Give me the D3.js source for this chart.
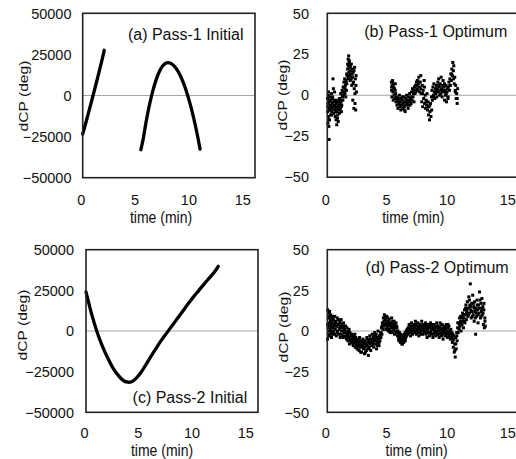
<!DOCTYPE html>
<html><head><meta charset="utf-8">
<script src="https://cdn.jsdelivr.net/npm/d3@7/dist/d3.min.js"></script>
<style>
html,body{margin:0;padding:0;background:#fff;}
svg{display:block;font-family:"Liberation Sans",Arial,sans-serif;}
</style></head>
<body>
<svg id="chart" width="516" height="459"></svg>
<script>
// ---------- data ----------
const xTicks = [0, 5, 10, 15];
const yTicksInitial = [-50000, -25000, 0, 25000, 50000];
const yTicksOptimum = [-50, -25, 0, 25, 50];
const panelTitles = ["(a) Pass-1 Initial", "(b) Pass-1 Optimum", "(c) Pass-2 Initial", "(d) Pass-2 Optimum"];
const xAxisTitle = "time (min)";
const yAxisTitle = "dCP (deg)";

// (a) Pass-1 Initial: two curve pieces [time, dCP]
const aCurve1 = [[0,-23500],[0.25,-17500],[0.5,-11500],[0.75,-5300],[1.0,1000],[1.25,7300],[1.5,13800],[1.75,20500],[2.0,27500]];
const aCurve2 = [[5.4,-33000],[5.6,-27000],[5.9,-15600],[6.2,-5700],[6.5,2500],[6.8,9200],[7.1,14300],[7.4,17800],[7.7,19600],[7.9,20000],[8.2,19500],[8.5,17900],[8.8,15300],[9.1,11600],[9.4,6900],[9.7,1100],[10.0,-5700],[10.3,-13600],[10.6,-22500],[10.9,-32600]];

// (c) Pass-2 Initial
const cCurve = [[0,24000],[0.5,11000],[1.0,0],[1.5,-9000],[2.0,-16300],[2.5,-22700],[3.0,-27300],[3.5,-30600],[3.9,-31500],[4.3,-31000],[4.7,-28800],[5.0,-26500],[5.5,-21500],[6.0,-16000],[6.5,-10800],[7.0,-5800],[7.5,-1300],[8.0,3200],[8.5,7700],[9.0,12200],[9.5,16700],[10.0,21000],[10.5,25000],[11.0,29000],[11.5,32800],[12.0,36800],[12.3,39800]];

// (b) Pass-1 Optimum scatter [time, dCP]
const bPoints = [
[0.02,-2],[0.03,-10],[0.05,-17],[0.06,-5],[0.08,0],[0.09,-13],[0.1,2],[0.12,-8],[0.13,-19],[0.15,-27],[0.16,-4],[0.18,-15],[0.2,-1],[0.22,-9],[0.25,-6],[0.27,-12],[0.3,-3],[0.32,-7],[0.35,1],[0.37,-10],[0.4,-5],[0.42,-2],[0.45,-8],[0.47,10],[0.5,4],[0.52,-4],[0.55,-11],[0.57,-6],[0.6,2],[0.62,-9],[0.65,-13],[0.67,-3],[0.7,-7],[0.72,-15],[0.75,-5],[0.78,-18],[0.8,-10],[0.83,-4],[0.86,-12],[0.88,-8],[0.9,-16],[0.93,-3],[0.96,-6],[0.98,-9],[1.01,-2],[1.04,-5],[1.07,-8],[1.1,1],[1.13,-4],[1.16,-10],[1.19,-6],[1.22,3],[1.25,-1],[1.28,-3],[1.31,5],[1.34,0],[1.37,8],[1.4,2],[1.43,10],[1.46,4],[1.49,6],[1.52,-1],[1.55,9],[1.58,3],[1.61,7],[1.64,12],[1.67,16],[1.7,10],[1.72,22],[1.74,18],[1.76,24],[1.78,14],[1.8,20],[1.83,12],[1.86,17],[1.89,9],[1.92,15],[1.95,13],[1.98,19],[2.01,6],[2.04,16],[2.07,11],[2.1,-3],[2.13,14],[2.16,8],[2.19,-8],[2.22,4],[2.25,17],[2.28,-5],[2.31,10],[2.34,-9],[2.37,12],[2.4,2],
[0.04,-7],[0.11,-15],[0.17,-9],[0.23,-3],[0.29,-8],[0.36,-12],[0.44,-1],[0.53,-7],[0.61,-4],[0.69,-10],[0.76,-8],[0.84,-14],[0.92,-7],[1.0,-11],[1.08,-3],[1.15,-7],[1.23,0],[1.3,2],[1.38,5],[1.45,1],[1.53,8],[1.6,13],[1.68,19],[1.75,11],[1.82,21],[1.9,18],[1.97,10],[2.05,13],[2.12,7],[2.2,15],[2.28,1],[2.36,6],
[5.28,8],[5.3,3],[5.32,-1],[5.35,6],[5.38,9],[5.4,2],[5.43,-3],[5.46,5],[5.5,0],[5.53,4],[5.56,-2],[5.6,7],[5.63,1],[5.66,-4],[5.7,-1],[5.74,-6],[5.78,-3],[5.82,-8],[5.86,-2],[5.9,-5],[5.94,0],[5.98,-7],[6.02,-4],[6.06,-9],[6.1,-2],[6.14,-6],[6.18,-3],[6.22,-8],[6.26,-5],[6.3,-1],[6.34,-7],[6.38,-4],[6.42,-10],[6.46,-2],[6.5,-6],[6.54,0],[6.58,-5],[6.62,-3],[6.66,-8],[6.7,-1],[6.74,-4],[6.78,1],[6.82,-6],[6.86,-2],[6.9,-5],[6.94,2],[6.98,-3],[7.02,4],[7.06,-1],[7.1,3],[7.14,-4],[7.18,5],[7.22,1],[7.26,6],[7.3,2],[7.34,8],[7.38,4],[7.42,9],[7.46,3],[7.5,7],[7.54,11],[7.58,5],[7.62,2],[7.66,8],[7.7,12],[7.74,1],[7.78,-4],[7.82,6],[7.86,-7],[7.9,3],[7.94,-2],[7.98,9],[8.02,-5],[8.06,0],[8.1,-8],[8.14,-3],[8.18,-6],[8.22,1],[8.26,-9],[8.3,-4],[8.34,-12],[8.38,-7],[8.42,-15],[8.46,-10],[8.5,-5],[8.54,-13],[8.58,-1],[8.62,3],[8.66,-3],[8.7,5],[8.74,0],[8.78,7],[8.82,2],[8.86,-2],[8.9,4],[8.94,1],[8.98,6],[9.02,-1],[9.06,3],[9.1,8],[9.14,2],[9.18,10],[9.22,5],[9.26,0],[9.3,7],[9.34,3],[9.38,11],[9.42,4],[9.46,-1],[9.5,6],[9.54,9],[9.58,2],[9.62,5],[9.66,-3],[9.7,3],[9.74,0],[9.78,6],[9.82,-4],[9.86,2],[9.9,4],[9.94,-2],[9.98,5],[10.02,8],[10.06,3],[10.1,10],[10.14,6],[10.18,13],[10.22,9],[10.26,16],[10.3,12],[10.34,20],[10.38,15],[10.42,18],[10.46,7],[10.5,11],[10.54,3],[10.58,6],[10.62,-2],[10.66,1],[10.7,-5],[10.74,4],
[5.3,5],[5.45,7],[5.6,3],[5.75,-2],[5.9,-4],[6.05,-6],[6.2,-1],[6.35,-9],[6.5,-4],[6.65,-6],[6.8,-3],[6.95,-1],[7.1,1],[7.25,3],[7.4,6],[7.55,8],[7.7,4],[7.85,1],[8.0,5],[8.15,-4],[8.3,-7],[8.45,-6],[8.6,-9],[8.75,-1],[8.9,2],[9.05,4],[9.2,6],[9.35,1],[9.5,3],[9.65,7],[9.8,1],[9.95,-1],[10.1,6],[10.25,13],[10.4,10],[10.55,2],[10.7,-2]
];

// (d) Pass-2 Optimum scatter [time, dCP]
const dPoints = [
[0.02,-5],[0.04,13],[0.06,2],[0.08,8],[0.1,-2],[0.12,11],[0.14,5],[0.16,0],[0.18,9],[0.2,3],[0.22,-3],[0.24,7],[0.26,1],[0.28,10],[0.3,4],[0.32,-1],[0.34,6],[0.36,2],[0.38,8],[0.4,-2],[0.42,5],[0.44,0],[0.46,3],
[0.5,7],[0.54,-1],[0.58,4],[0.62,9],[0.66,1],[0.7,5],[0.74,-3],[0.78,3],[0.82,8],[0.86,0],[0.9,4],[0.94,-2],[0.98,6],[1.02,2],[1.06,-4],[1.1,3],[1.14,7],[1.18,0],[1.22,4],[1.26,-3],[1.3,2],[1.34,5],[1.38,-1],
[1.42,1],[1.46,-3],[1.5,3],[1.54,-1],[1.58,-5],[1.62,2],[1.66,-2],[1.7,-6],[1.74,0],[1.78,-4],[1.82,-8],[1.86,-1],[1.9,-5],[1.94,-3],[1.98,-7],[2.02,-2],[2.06,-6],[2.1,-4],[2.14,-9],[2.18,-3],[2.22,-7],[2.26,-5],[2.3,-10],[2.34,-4],[2.38,-8],[2.42,-6],[2.46,-11],
[2.5,-5],[2.54,-9],[2.58,-7],[2.62,-12],[2.66,-4],[2.7,-8],[2.74,-10],[2.78,-6],[2.82,-13],[2.86,-7],[2.9,-9],[2.94,-5],[2.98,-11],[3.02,-8],[3.06,-14],[3.1,-6],[3.14,-10],[3.18,-8],[3.22,-12],[3.26,-4],[3.3,-9],[3.34,-7],[3.38,-15],[3.42,-6],[3.46,-10],[3.5,-3],[3.54,-8],[3.58,-12],
[3.62,-5],[3.66,-9],[3.7,-2],[3.74,-7],[3.78,-4],[3.82,-10],[3.86,-6],[3.9,-1],[3.94,-8],[3.98,-3],[4.02,-6],[4.06,-11],[4.1,-4],[4.14,-7],[4.18,0],[4.22,-5],[4.26,-9],[4.3,-3],[4.34,-6],[4.38,-1],
[4.42,-4],[4.46,2],[4.5,-2],[4.54,5],[4.58,1],[4.62,8],[4.66,3],[4.7,10],
[4.74,4],[4.78,7],[4.82,1],[4.86,5],[4.9,9],[4.94,2],[4.98,6],[5.02,0],[5.06,4],[5.1,7],[5.14,3],[5.18,-1],[5.22,5],[5.26,2],[5.3,8],[5.34,3],[5.38,-1],[5.42,4],[5.46,1],[5.5,6],[5.54,-2],[5.58,3],[5.62,0],[5.66,5],[5.7,-1],[5.74,2],[5.78,-3],
[5.82,0],[5.86,-3],[5.9,-6],[5.94,-1],[5.98,-4],[6.02,-7],[6.06,-2],[6.1,-5],[6.14,-8],[6.18,-3],[6.22,-6],[6.26,-4],[6.3,-7],[6.34,-2],[6.38,-5],[6.42,-1],[6.46,-4],[6.5,0],[6.54,-3],[6.58,1],
[6.62,-2],[6.66,2],[6.7,-1],[6.74,4],[6.78,0],[6.82,3],[6.86,-3],[6.9,1],[6.94,5],[6.98,2],[7.02,-2],[7.06,3],[7.1,0],[7.14,4],[7.18,-1],[7.22,2],[7.26,6],[7.3,1],[7.34,-2],[7.38,3],[7.42,0],[7.46,5],[7.5,2],[7.54,-3],[7.58,1],[7.62,4],[7.66,-1],[7.7,3],[7.74,0],[7.78,6],[7.82,2],[7.86,-2],[7.9,1],[7.94,4],[7.98,-1],
[8.02,3],[8.06,0],[8.1,5],[8.14,-2],[8.18,2],[8.22,-4],[8.26,1],[8.3,4],[8.34,-1],[8.38,3],[8.42,-3],[8.46,2],[8.5,5],[8.54,0],[8.58,-2],[8.62,3],[8.66,1],[8.7,-4],[8.74,2],[8.78,4],[8.82,-1],[8.86,3],[8.9,0],[8.94,-3],[8.98,2],[9.02,5],[9.06,0],
[9.1,-2],[9.14,3],[9.18,0],[9.22,-4],[9.26,2],[9.3,5],[9.34,-1],[9.38,1],[9.42,-3],[9.46,4],[9.5,0],[9.54,-5],[9.58,2],[9.62,-1],[9.66,3],[9.7,-3],[9.74,1],[9.78,-2],[9.82,4],[9.86,0],[9.9,-4],[9.94,2],[9.98,-1],[10.02,3],[10.06,-3],[10.1,0],[10.14,-5],[10.18,1],[10.22,-2],
[10.26,-4],[10.3,-7],[10.34,-2],[10.38,-10],[10.42,-5],[10.46,-13],[10.5,-8],[10.54,-16],[10.58,-4],[10.62,-11],[10.66,-1],[10.7,-6],
[10.74,2],[10.78,-1],[10.82,5],[10.86,1],[10.9,8],[10.94,3],[10.98,6],[11.02,0],[11.06,9],[11.1,4],[11.14,11],[11.18,6],[11.22,2],
[11.26,8],[11.3,13],[11.34,5],[11.38,10],[11.42,16],[11.46,7],[11.5,12],[11.54,18],[11.58,9],[11.62,14],[11.66,21],[11.7,11],[11.74,16],[11.78,29],[11.82,13],[11.86,8],[11.9,17],[11.94,12],[11.98,22],[12.02,10],[12.06,15],[12.1,6],[12.14,18],[12.18,12],[12.22,-2],[12.26,14],[12.3,9],[12.34,19],[12.38,13],[12.42,5],[12.46,16],[12.5,11],[12.54,24],[12.58,14],[12.62,8],[12.66,17],[12.7,12],[12.74,20],[12.78,10],[12.82,15],[12.86,4],[12.9,13],[12.94,2],[12.98,8],
[0.03,4],[0.11,-3],[0.19,12],[0.27,6],[0.35,-4],[0.43,9],[0.51,2],[0.59,-2],[0.67,6],[0.75,3],[0.83,-1],[0.91,7],[0.99,1],[1.07,5],[1.15,-2],[1.23,2],[1.31,-4],[1.39,3],
[1.47,0],[1.55,-4],[1.63,-1],[1.71,-3],[1.79,1],[1.87,-6],[1.95,-2],[2.03,-5],[2.11,-8],[2.19,-6],[2.27,-2],[2.35,-7],[2.43,-9],[2.51,-11],[2.59,-6],[2.67,-9],[2.75,-13],[2.83,-9],[2.91,-6],[2.99,-10],[3.07,-7],[3.15,-13],[3.23,-9],[3.31,-5],[3.39,-11],[3.47,-7],[3.55,-5],[3.63,-8],[3.71,-6],[3.79,-8],[3.87,-3],[3.95,-5],[4.03,-2],[4.11,-9],[4.19,-4],[4.27,-7],[4.35,-3],[4.43,-1],[4.51,3],[4.59,4],[4.67,6],[4.75,9],[4.83,4],[4.91,3],[4.99,8],[5.07,1],[5.15,5],[5.23,0],[5.31,4],[5.39,6],[5.47,2],[5.55,4],[5.63,2],[5.71,3],[5.79,-1],[5.87,-5],[5.95,-3],[6.03,-5],[6.11,-6],[6.19,-8],[6.27,-5],[6.35,-3],[6.43,-6],[6.51,-2],[6.59,-1],[6.67,0],[6.75,1],[6.83,-1],[6.91,3],[6.99,0],[7.07,1],[7.15,2],[7.23,-1],[7.31,4],[7.39,1],[7.47,-1],[7.55,3],[7.63,1],[7.71,-2],[7.79,2],[7.87,4],[7.95,1],[8.03,-1],[8.11,2],[8.19,4],[8.27,-1],[8.35,2],[8.43,4],[8.51,-1],[8.59,1],[8.67,4],[8.75,-2],[8.83,1],[8.91,3],[8.99,-1],[9.07,3],[9.15,1],[9.23,-2],[9.31,2],[9.39,4],[9.47,-2],[9.55,1],[9.63,3],[9.71,-1],[9.79,2],[9.87,-2],[9.95,4],[10.03,0],[10.11,-2],[10.19,-4],[10.27,-1],[10.35,-6],[10.43,-3],[10.51,-12],[10.59,-8],[10.67,-3],[10.75,5],[10.83,2],[10.91,4],[10.99,9],[11.07,6],[11.15,8],[11.23,10],[11.31,6],[11.39,14],[11.47,11],[11.55,14],[11.63,10],[11.71,19],[11.79,15],[11.87,12],[11.95,9],[12.03,17],[12.11,14],[12.19,8],[12.27,11],[12.35,16],[12.43,10],[12.51,14],[12.59,19],[12.67,9],[12.75,14],[12.83,11],[12.91,17],[12.99,6],[13.02,3]
];

// ---------- layout ----------
const svg = d3.select("#chart");
const panels = [
  {title: panelTitles[0], type: "line", series: [aCurve1, aCurve2], yTicks: yTicksInitial,
   box: {l: 82.7, r: 255, t: 13.3, b: 177.7}, yLabEnd: 71.5, yTitle: {x: 28, y: 96},
   xTitle: {x: 161, y: 222.5}, xLabY: 205, tpos: {x: 243.5, y: 40}},
  {title: panelTitles[1], type: "scatter", series: [bPoints], yTicks: yTicksOptimum,
   box: {l: 327.3, r: 521.5, t: 13.3, b: 177.2}, yLabEnd: 309, yTitle: {x: 287, y: 95},
   xTitle: {x: 413.3, y: 222.5}, xLabY: 205, tpos: {x: 507.3, y: 37}},
  {title: panelTitles[2], type: "line", series: [cCurve], yTicks: yTicksInitial,
   box: {l: 86, r: 258, t: 249.7, b: 412.3}, yLabEnd: 74, yTitle: {x: 27, y: 325},
   xTitle: {x: 162, y: 456}, xLabY: 437.8, tpos: {x: 247.3, y: 403}},
  {title: panelTitles[3], type: "scatter", series: [dPoints], yTicks: yTicksOptimum,
   box: {l: 327.3, r: 521.5, t: 249.7, b: 412.3}, yLabEnd: 309, yTitle: {x: 288, y: 327},
   xTitle: {x: 416.7, y: 456}, xLabY: 437.8, tpos: {x: 508.7, y: 273}}
];

panels.forEach(p => {
  const yMax = d3.max(p.yTicks), yMin = d3.min(p.yTicks);
  const x = d3.scaleLinear().domain([0, 16]).range([p.box.l, p.box.r]);
  const y = d3.scaleLinear().domain([yMin, yMax]).range([p.box.b, p.box.t]);
  const g = svg.append("g");

  // zero line
  g.append("line").attr("x1", p.box.l).attr("x2", p.box.r)
    .attr("y1", y(0)).attr("y2", y(0))
    .attr("stroke", "#a6a6a6").attr("stroke-width", 1.2);

  // data
  if (p.type === "line") {
    const line = d3.line().x(d => x(d[0])).y(d => y(d[1])).curve(d3.curveCatmullRom.alpha(0.5));
    p.series.forEach(s => {
      g.append("path").datum(s).attr("d", line).attr("fill", "none")
        .attr("stroke", "#000").attr("stroke-width", 3.3).attr("stroke-linecap", "round");
    });
  } else {
    p.series.forEach(s => {
      g.selectAll(null).data(s).enter().append("rect")
        .attr("x", d => x(d[0]) - 1.5).attr("y", d => y(d[1]) - 1.5)
        .attr("width", 3).attr("height", 3).attr("fill", "#000");
    });
  }

  // box
  g.append("rect").attr("x", p.box.l).attr("y", p.box.t)
    .attr("width", p.box.r - p.box.l).attr("height", p.box.b - p.box.t)
    .attr("fill", "none").attr("stroke", "#222").attr("stroke-width", 1.6);

  // y tick labels
  g.selectAll(null).data(p.yTicks).enter().append("text")
    .attr("x", p.yLabEnd).attr("y", d => y(d)).attr("dy", "0.36em")
    .attr("text-anchor", "end").attr("font-size", 14.5).attr("fill", "#111")
    .text(d => d3.format("d")(d));

  // x tick labels
  g.selectAll(null).data(xTicks).enter().append("text")
    .attr("x", d => x(d) - 1.5).attr("y", p.xLabY)
    .attr("text-anchor", "middle").attr("font-size", 14.5).attr("fill", "#111")
    .text(d => d);

  // axis titles (slightly tall, narrow lettering as in the reference)
  g.append("text").attr("transform", `translate(${p.xTitle.x},${p.xTitle.y}) scale(1,1.18)`)
    .attr("text-anchor", "middle").attr("font-size", 14).attr("fill", "#111")
    .text(xAxisTitle);
  g.append("text").attr("transform", `translate(${p.yTitle.x},${p.yTitle.y}) rotate(-90) scale(1.22,1)`)
    .attr("text-anchor", "middle").attr("font-size", 12.8).attr("fill", "#111")
    .text(yAxisTitle);

  // panel title
  g.append("text").attr("x", p.tpos.x).attr("y", p.tpos.y)
    .attr("text-anchor", "end").attr("font-size", 16).attr("fill", "#111")
    .text(p.title);
});
</script>
</body></html>
